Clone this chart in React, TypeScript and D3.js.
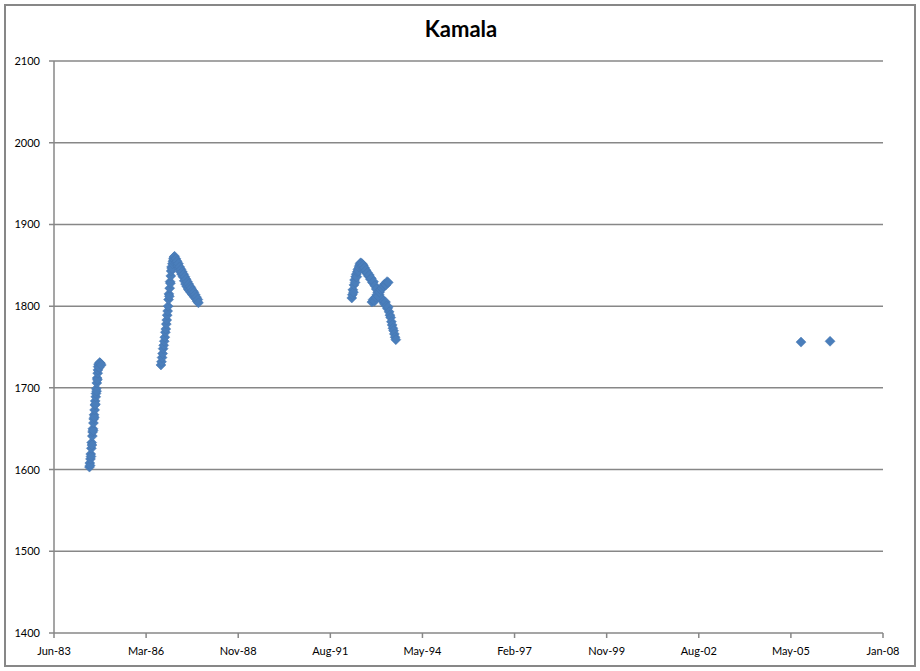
import React from "react";
import * as d3 from "d3";

const TITLE = "Kamala";
const Y_TICKS = [1400, 1500, 1600, 1700, 1800, 1900, 2000, 2100];
const X_START = "1983-06-08";
const X_STEP_DAYS = 1000;
const X_TICK_COUNT = 10;

// [date, level]
const SERIES_1984: [string, number][] = [
  ["1984-06-27", 1603], ["1984-07-01", 1608], ["1984-07-04", 1605], ["1984-07-08", 1613],
  ["1984-07-11", 1619], ["1984-07-14", 1616], ["1984-07-18", 1626], ["1984-07-21", 1633],
  ["1984-07-24", 1630], ["1984-07-28", 1641], ["1984-07-31", 1646], ["1984-08-03", 1650],
  ["1984-08-06", 1648], ["1984-08-09", 1657], ["1984-08-12", 1662], ["1984-08-16", 1667],
  ["1984-08-19", 1664], ["1984-08-22", 1673], ["1984-08-25", 1679], ["1984-08-28", 1684],
  ["1984-08-31", 1680], ["1984-09-03", 1689], ["1984-09-06", 1693], ["1984-09-09", 1699],
  ["1984-09-12", 1696], ["1984-09-15", 1706], ["1984-09-18", 1712], ["1984-09-21", 1710],
  ["1984-09-24", 1718], ["1984-09-27", 1722], ["1984-09-30", 1726], ["1984-10-04", 1729],
  ["1984-10-10", 1725], ["1984-10-16", 1731], ["1984-10-24", 1730], ["1984-11-02", 1728],
];

const SERIES_1986: [string, number][] = [
  ["1986-08-12", 1728], ["1986-08-18", 1732], ["1986-08-24", 1737], ["1986-08-30", 1742],
  ["1986-09-05", 1748], ["1986-09-11", 1752], ["1986-09-17", 1757], ["1986-09-23", 1762],
  ["1986-09-29", 1768], ["1986-10-04", 1772], ["1986-10-09", 1778], ["1986-10-14", 1783],
  ["1986-10-19", 1789], ["1986-10-24", 1794], ["1986-10-29", 1800], ["1986-11-03", 1808],
  ["1986-11-07", 1815], ["1986-11-11", 1812], ["1986-11-15", 1822], ["1986-11-19", 1830],
  ["1986-11-23", 1828], ["1986-11-27", 1837], ["1986-12-01", 1843], ["1986-12-05", 1848],
  ["1986-12-10", 1846], ["1986-12-15", 1852], ["1986-12-20", 1855], ["1986-12-26", 1858],
  ["1987-01-01", 1860], ["1987-01-07", 1861], ["1987-01-14", 1856], ["1987-01-21", 1858],
  ["1987-01-28", 1853], ["1987-02-04", 1855], ["1987-02-11", 1849], ["1987-02-18", 1852],
  ["1987-02-25", 1846], ["1987-03-04", 1848], ["1987-03-11", 1842], ["1987-03-18", 1845],
  ["1987-03-25", 1839], ["1987-04-01", 1842], ["1987-04-08", 1836], ["1987-04-15", 1839],
  ["1987-04-22", 1831], ["1987-04-29", 1836], ["1987-05-06", 1827], ["1987-05-13", 1833],
  ["1987-05-20", 1824], ["1987-05-27", 1830], ["1987-06-03", 1821], ["1987-06-10", 1827],
  ["1987-06-17", 1819], ["1987-06-24", 1824], ["1987-07-01", 1817], ["1987-07-08", 1822],
  ["1987-07-15", 1815], ["1987-07-22", 1819], ["1987-07-29", 1813], ["1987-08-05", 1817],
  ["1987-08-12", 1811], ["1987-08-19", 1814], ["1987-08-26", 1809], ["1987-09-02", 1811],
  ["1987-09-09", 1806], ["1987-09-16", 1808], ["1987-09-23", 1804],
];

const SERIES_1992: [string, number][] = [
  ["1992-04-14", 1810], ["1992-04-20", 1814], ["1992-04-26", 1820], ["1992-05-02", 1817],
  ["1992-05-08", 1826], ["1992-05-14", 1832], ["1992-05-20", 1829], ["1992-05-26", 1836],
  ["1992-06-01", 1839], ["1992-06-07", 1836], ["1992-06-13", 1842], ["1992-06-19", 1845],
  ["1992-06-25", 1843], ["1992-07-01", 1848], ["1992-07-07", 1850], ["1992-07-13", 1852],
  ["1992-07-20", 1853], ["1992-07-27", 1851], ["1992-08-03", 1852], ["1992-08-10", 1849],
  ["1992-08-17", 1850], ["1992-08-24", 1846], ["1992-08-31", 1847], ["1992-09-08", 1843],
  ["1992-09-16", 1844], ["1992-09-24", 1840], ["1992-10-02", 1841], ["1992-10-12", 1837],
  ["1992-10-22", 1838], ["1992-11-02", 1833], ["1992-11-12", 1834], ["1992-11-24", 1829],
  ["1992-12-06", 1830], ["1992-12-20", 1825], ["1993-01-04", 1821], ["1993-01-20", 1817],
  ["1993-02-05", 1814], ["1993-02-20", 1811], ["1993-03-06", 1808], ["1993-03-20", 1806],
  ["1993-04-02", 1803], ["1993-04-15", 1805], ["1993-04-26", 1800], ["1993-05-06", 1797],
  ["1993-05-15", 1799], ["1993-05-24", 1793], ["1993-06-02", 1789], ["1993-06-10", 1786],
  ["1993-06-18", 1781], ["1993-06-26", 1777], ["1993-07-04", 1773], ["1993-07-12", 1770],
  ["1993-07-20", 1766], ["1993-07-28", 1762], ["1993-08-05", 1759],
];

const SERIES_1992_B: [string, number][] = [
  ["1992-11-18", 1805], ["1992-12-02", 1808], ["1992-12-16", 1806], ["1992-12-30", 1811],
  ["1993-01-12", 1814], ["1993-01-26", 1812], ["1993-02-09", 1817], ["1993-02-23", 1820],
  ["1993-03-09", 1822], ["1993-03-23", 1825], ["1993-04-06", 1827], ["1993-04-20", 1826],
  ["1993-05-02", 1830], ["1993-05-14", 1829],
];

const SERIES_2005: [string, number][] = [
  ["2005-08-21", 1756], ["2006-07-02", 1757],
];

const ALL_POINTS = [...SERIES_1984, ...SERIES_1986, ...SERIES_1992, ...SERIES_1992_B, ...SERIES_2005];

const W = 920;
const H = 671;
const PLOT = { left: 54, right: 883, top: 61, bottom: 633 };
const FONT = "Lato, 'Open Sans', sans-serif";
const GRID = "#878787";
const MARK = "#4A7EBB";

export default function App() {
  const parse = d3.utcParse("%Y-%m-%d");
  const start = parse(X_START) as Date;
  const xTicks = d3.range(X_TICK_COUNT).map((i) => d3.utcDay.offset(start, i * X_STEP_DAYS));
  const x = d3
    .scaleUtc()
    .domain([start, xTicks[xTicks.length - 1]])
    .range([PLOT.left, PLOT.right]);
  const y = d3.scaleLinear().domain([1400, 2100]).range([PLOT.bottom, PLOT.top]);
  const fmt = d3.utcFormat("%b-%y");
  const diamond = "M0,-5L5,0L0,5L-5,0Z";

  return (
    <svg
      width={W}
      height={H}
      style={{ position: "absolute", left: 0, top: 0, background: "#fff" }}
      fontFamily={FONT}
    >
      <rect x={5} y={5} width={910} height={661} fill="#fff" stroke={GRID} strokeWidth={2} />
      <text x={461} y={37} textAnchor="middle" fontSize={22} fontWeight={700} fill="#000">
        {TITLE}
      </text>
      {Y_TICKS.map((t) => (
        <g key={t}>
          <line x1={PLOT.left - 5} x2={PLOT.right} y1={y(t)} y2={y(t)} stroke={GRID} strokeWidth={1.5} />
          <text x={40} y={y(t) + 4} textAnchor="end" fontSize={11} fill="#000">
            {t}
          </text>
        </g>
      ))}
      <line x1={PLOT.left} x2={PLOT.left} y1={PLOT.top} y2={PLOT.bottom} stroke={GRID} strokeWidth={1.5} />
      {xTicks.map((t, i) => (
        <g key={i}>
          <line x1={x(t)} x2={x(t)} y1={PLOT.bottom} y2={PLOT.bottom + 5} stroke={GRID} strokeWidth={1.5} />
          <text x={x(t)} y={655} textAnchor="middle" fontSize={11} fill="#000">
            {fmt(t)}
          </text>
        </g>
      ))}
      {ALL_POINTS.map(([d, v], i) => (
        <path
          key={i}
          d={diamond}
          transform={`translate(${x(parse(d) as Date)},${y(v)})`}
          fill={MARK}
          stroke="#4777B0"
          strokeWidth={0.5}
        />
      ))}
    </svg>
  );
}
